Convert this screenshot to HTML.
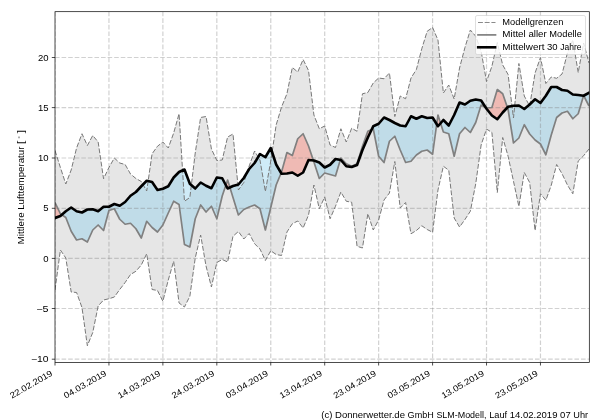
<!DOCTYPE html>
<html><head><meta charset="utf-8"><title>Mittlere Lufttemperatur</title>
<style>
html,body{margin:0;padding:0;background:#fff;}
body{width:600px;height:420px;overflow:hidden;font-family:"Liberation Sans",sans-serif;}
svg{display:block;will-change:transform;}
text{font-family:"Liberation Sans",sans-serif;fill:#000;}
</style></head><body>
<svg width="600" height="420" viewBox="0 0 600 420">
<rect width="600" height="420" fill="#fff"/>
<defs>
<clipPath id="ax"><rect x="55" y="11.7" width="534.3" height="350.8"/></clipPath>
<clipPath id="bc"><path d="M55.00 218.00 L60.39 216.00 L65.79 211.25 L71.18 207.50 L76.58 211.25 L81.97 212.50 L87.36 209.50 L92.76 209.25 L98.15 211.25 L103.55 206.75 L108.94 206.75 L114.33 204.00 L119.73 205.75 L125.12 202.00 L130.52 195.75 L135.91 192.00 L141.30 186.25 L146.70 180.75 L152.09 182.00 L157.49 190.00 L162.88 188.75 L168.27 186.25 L173.67 177.50 L179.06 172.00 L184.46 169.50 L189.85 183.75 L195.24 188.50 L200.64 182.50 L206.03 185.75 L211.43 188.25 L216.82 177.50 L222.21 178.25 L227.61 188.50 L233.00 186.00 L238.40 184.50 L243.79 178.00 L249.18 169.00 L254.58 163.00 L259.97 154.00 L265.37 157.25 L270.76 148.00 L276.15 164.50 L281.55 173.75 L286.94 173.50 L292.34 172.50 L297.73 175.75 L303.12 172.50 L308.52 160.00 L313.91 160.50 L319.31 162.50 L324.70 167.50 L330.09 164.75 L335.49 159.00 L340.88 160.00 L346.28 166.25 L351.67 167.00 L357.06 165.00 L362.46 150.00 L367.85 137.50 L373.25 126.25 L378.64 123.75 L384.03 117.50 L389.43 120.00 L394.82 123.00 L400.22 125.50 L405.61 126.25 L411.00 116.25 L416.40 118.75 L421.79 116.25 L427.19 118.00 L432.58 117.50 L437.97 126.25 L443.37 120.00 L448.76 125.50 L454.16 115.00 L459.55 102.50 L464.94 104.50 L470.34 100.75 L475.73 99.50 L481.13 100.50 L486.52 108.75 L491.91 115.50 L497.31 119.25 L502.70 112.50 L508.10 106.75 L513.49 105.75 L518.88 105.50 L524.28 109.00 L529.67 104.50 L535.07 99.25 L540.46 103.00 L545.85 95.75 L551.25 87.00 L556.64 87.00 L562.04 90.00 L567.43 90.75 L572.82 94.50 L578.22 95.00 L583.61 95.75 L589.01 92.75 L589.01 412.50 L55.00 412.50 Z"/></clipPath>
<clipPath id="ac"><path d="M55.00 218.00 L60.39 216.00 L65.79 211.25 L71.18 207.50 L76.58 211.25 L81.97 212.50 L87.36 209.50 L92.76 209.25 L98.15 211.25 L103.55 206.75 L108.94 206.75 L114.33 204.00 L119.73 205.75 L125.12 202.00 L130.52 195.75 L135.91 192.00 L141.30 186.25 L146.70 180.75 L152.09 182.00 L157.49 190.00 L162.88 188.75 L168.27 186.25 L173.67 177.50 L179.06 172.00 L184.46 169.50 L189.85 183.75 L195.24 188.50 L200.64 182.50 L206.03 185.75 L211.43 188.25 L216.82 177.50 L222.21 178.25 L227.61 188.50 L233.00 186.00 L238.40 184.50 L243.79 178.00 L249.18 169.00 L254.58 163.00 L259.97 154.00 L265.37 157.25 L270.76 148.00 L276.15 164.50 L281.55 173.75 L286.94 173.50 L292.34 172.50 L297.73 175.75 L303.12 172.50 L308.52 160.00 L313.91 160.50 L319.31 162.50 L324.70 167.50 L330.09 164.75 L335.49 159.00 L340.88 160.00 L346.28 166.25 L351.67 167.00 L357.06 165.00 L362.46 150.00 L367.85 137.50 L373.25 126.25 L378.64 123.75 L384.03 117.50 L389.43 120.00 L394.82 123.00 L400.22 125.50 L405.61 126.25 L411.00 116.25 L416.40 118.75 L421.79 116.25 L427.19 118.00 L432.58 117.50 L437.97 126.25 L443.37 120.00 L448.76 125.50 L454.16 115.00 L459.55 102.50 L464.94 104.50 L470.34 100.75 L475.73 99.50 L481.13 100.50 L486.52 108.75 L491.91 115.50 L497.31 119.25 L502.70 112.50 L508.10 106.75 L513.49 105.75 L518.88 105.50 L524.28 109.00 L529.67 104.50 L535.07 99.25 L540.46 103.00 L545.85 95.75 L551.25 87.00 L556.64 87.00 L562.04 90.00 L567.43 90.75 L572.82 94.50 L578.22 95.00 L583.61 95.75 L589.01 92.75 L589.01 -38.30 L55.00 -38.30 Z"/></clipPath>
</defs>
<g clip-path="url(#ax)">
<path d="M55.00 150.50 L60.39 167.50 L65.79 184.00 L71.18 170.00 L76.58 148.00 L81.97 133.75 L87.36 145.50 L92.76 135.50 L98.15 142.00 L103.55 178.75 L108.94 167.50 L114.33 158.00 L119.73 163.00 L125.12 164.50 L130.52 174.00 L135.91 178.50 L141.30 181.50 L146.70 191.00 L152.09 153.75 L157.49 146.25 L162.88 142.00 L168.27 148.00 L173.67 133.00 L179.06 113.75 L184.46 201.25 L189.85 197.50 L195.24 153.00 L200.64 117.50 L206.03 116.50 L211.43 149.00 L216.82 160.50 L222.21 160.00 L227.61 137.00 L233.00 134.00 L238.40 190.00 L243.79 182.50 L249.18 166.00 L254.58 151.00 L259.97 160.00 L265.37 191.50 L270.76 161.00 L276.15 125.00 L281.55 107.00 L286.94 93.75 L292.34 67.50 L297.73 72.00 L303.12 59.50 L308.52 70.50 L313.91 115.00 L319.31 128.75 L324.70 126.00 L330.09 145.00 L335.49 147.50 L340.88 128.75 L346.28 142.00 L351.67 128.25 L357.06 131.25 L362.46 93.75 L367.85 92.50 L373.25 83.00 L378.64 78.00 L384.03 78.75 L389.43 73.00 L394.82 116.50 L400.22 96.00 L405.61 98.75 L411.00 78.00 L416.40 69.50 L421.79 48.75 L427.19 31.25 L432.58 27.50 L437.97 40.00 L443.37 93.00 L448.76 85.00 L454.16 99.00 L459.55 68.00 L464.94 47.50 L470.34 30.00 L475.73 36.25 L481.13 51.25 L486.52 81.50 L491.91 66.25 L497.31 42.50 L502.70 65.00 L508.10 74.50 L513.49 118.00 L518.88 63.50 L524.28 96.00 L529.67 106.00 L535.07 73.00 L540.46 57.50 L545.85 83.50 L551.25 77.00 L556.64 78.30 L562.04 74.00 L567.43 53.00 L572.82 40.00 L578.22 72.50 L583.61 43.00 L589.01 63.00 L589.01 149.00 L583.61 155.75 L578.22 161.00 L572.82 193.75 L567.43 185.00 L562.04 173.75 L556.64 164.50 L551.25 185.25 L545.85 200.25 L540.46 193.75 L535.07 230.50 L529.67 182.50 L524.28 172.50 L518.88 206.50 L513.49 181.25 L508.10 156.25 L502.70 137.50 L497.31 192.50 L491.91 132.50 L486.52 129.00 L481.13 145.00 L475.73 183.75 L470.34 211.25 L464.94 219.50 L459.55 227.00 L454.16 218.00 L448.76 170.25 L443.37 166.25 L437.97 190.00 L432.58 232.25 L427.19 229.50 L421.79 225.75 L416.40 230.50 L411.00 233.75 L405.61 202.50 L400.22 208.00 L394.82 161.50 L389.43 193.00 L384.03 200.00 L378.64 220.00 L373.25 230.00 L367.85 213.75 L362.46 248.00 L357.06 246.25 L351.67 202.25 L346.28 201.25 L340.88 192.00 L335.49 206.25 L330.09 218.75 L324.70 197.00 L319.31 208.75 L313.91 185.00 L308.52 215.00 L303.12 228.00 L297.73 221.00 L292.34 223.75 L286.94 232.00 L281.55 255.50 L276.15 254.50 L270.76 250.75 L265.37 260.50 L259.97 249.00 L254.58 243.75 L249.18 233.50 L243.79 239.00 L238.40 231.50 L233.00 236.25 L227.61 262.00 L222.21 259.50 L216.82 262.50 L211.43 287.00 L206.03 266.00 L200.64 235.00 L195.24 258.00 L189.85 296.25 L184.46 307.00 L179.06 303.00 L173.67 261.25 L168.27 280.00 L162.88 301.25 L157.49 290.50 L152.09 289.50 L146.70 253.75 L141.30 265.00 L135.91 271.25 L130.52 274.50 L125.12 282.50 L119.73 289.50 L114.33 297.00 L108.94 298.75 L103.55 300.00 L98.15 306.00 L92.76 332.50 L87.36 345.75 L81.97 307.50 L76.58 292.50 L71.18 292.00 L65.79 258.00 L60.39 250.00 L55.00 290.00 Z" fill="#808080" fill-opacity="0.2"/>
<g clip-path="url(#bc)"><path d="M55.00 202.50 L60.39 213.75 L65.79 217.50 L71.18 231.25 L76.58 240.00 L81.97 238.75 L87.36 242.00 L92.76 230.00 L98.15 225.00 L103.55 230.50 L108.94 210.50 L114.33 208.75 L119.73 219.25 L125.12 224.25 L130.52 223.25 L135.91 228.75 L141.30 238.00 L146.70 221.25 L152.09 227.50 L157.49 232.00 L162.88 225.00 L168.27 213.00 L173.67 201.25 L179.06 204.50 L184.46 244.50 L189.85 247.00 L195.24 218.75 L200.64 205.00 L206.03 212.00 L211.43 206.25 L216.82 218.75 L222.21 196.00 L227.61 180.00 L233.00 197.50 L238.40 215.00 L243.79 209.50 L249.18 207.00 L254.58 205.00 L259.97 208.75 L265.37 230.00 L270.76 207.50 L276.15 185.00 L281.55 172.00 L286.94 152.50 L292.34 155.50 L297.73 138.75 L303.12 133.75 L308.52 146.00 L313.91 162.00 L319.31 178.50 L324.70 173.00 L330.09 174.50 L335.49 176.00 L340.88 158.00 L346.28 163.75 L351.67 166.25 L357.06 163.75 L362.46 146.25 L367.85 131.25 L373.25 128.75 L378.64 156.25 L384.03 162.50 L389.43 141.25 L394.82 136.25 L400.22 150.00 L405.61 162.50 L411.00 161.25 L416.40 155.00 L421.79 151.25 L427.19 150.00 L432.58 154.25 L437.97 115.00 L443.37 132.00 L448.76 133.75 L454.16 156.25 L459.55 133.75 L464.94 127.50 L470.34 132.50 L475.73 122.50 L481.13 105.00 L486.52 108.00 L491.91 107.50 L497.31 89.50 L502.70 93.75 L508.10 109.50 L513.49 143.00 L518.88 138.00 L524.28 124.75 L529.67 134.00 L535.07 140.00 L540.46 144.00 L545.85 154.75 L551.25 135.00 L556.64 117.50 L562.04 113.00 L567.43 111.25 L572.82 118.75 L578.22 113.75 L583.61 95.50 L589.01 106.00 L589.01 -38.30 L55.00 -38.30 Z" fill="#87ceeb" fill-opacity="0.4"/></g>
<g clip-path="url(#ac)"><path d="M55.00 202.50 L60.39 213.75 L65.79 217.50 L71.18 231.25 L76.58 240.00 L81.97 238.75 L87.36 242.00 L92.76 230.00 L98.15 225.00 L103.55 230.50 L108.94 210.50 L114.33 208.75 L119.73 219.25 L125.12 224.25 L130.52 223.25 L135.91 228.75 L141.30 238.00 L146.70 221.25 L152.09 227.50 L157.49 232.00 L162.88 225.00 L168.27 213.00 L173.67 201.25 L179.06 204.50 L184.46 244.50 L189.85 247.00 L195.24 218.75 L200.64 205.00 L206.03 212.00 L211.43 206.25 L216.82 218.75 L222.21 196.00 L227.61 180.00 L233.00 197.50 L238.40 215.00 L243.79 209.50 L249.18 207.00 L254.58 205.00 L259.97 208.75 L265.37 230.00 L270.76 207.50 L276.15 185.00 L281.55 172.00 L286.94 152.50 L292.34 155.50 L297.73 138.75 L303.12 133.75 L308.52 146.00 L313.91 162.00 L319.31 178.50 L324.70 173.00 L330.09 174.50 L335.49 176.00 L340.88 158.00 L346.28 163.75 L351.67 166.25 L357.06 163.75 L362.46 146.25 L367.85 131.25 L373.25 128.75 L378.64 156.25 L384.03 162.50 L389.43 141.25 L394.82 136.25 L400.22 150.00 L405.61 162.50 L411.00 161.25 L416.40 155.00 L421.79 151.25 L427.19 150.00 L432.58 154.25 L437.97 115.00 L443.37 132.00 L448.76 133.75 L454.16 156.25 L459.55 133.75 L464.94 127.50 L470.34 132.50 L475.73 122.50 L481.13 105.00 L486.52 108.00 L491.91 107.50 L497.31 89.50 L502.70 93.75 L508.10 109.50 L513.49 143.00 L518.88 138.00 L524.28 124.75 L529.67 134.00 L535.07 140.00 L540.46 144.00 L545.85 154.75 L551.25 135.00 L556.64 117.50 L562.04 113.00 L567.43 111.25 L572.82 118.75 L578.22 113.75 L583.61 95.50 L589.01 106.00 L589.01 412.50 L55.00 412.50 Z" fill="#fa8072" fill-opacity="0.43"/></g>
<line x1="55.00" y1="11.7" x2="55.00" y2="362.5" stroke="#808080" stroke-opacity="0.36" stroke-width="1.2" stroke-dasharray="4.6 1.975"/>
<line x1="108.94" y1="11.7" x2="108.94" y2="362.5" stroke="#808080" stroke-opacity="0.36" stroke-width="1.2" stroke-dasharray="4.6 1.975"/>
<line x1="162.88" y1="11.7" x2="162.88" y2="362.5" stroke="#808080" stroke-opacity="0.36" stroke-width="1.2" stroke-dasharray="4.6 1.975"/>
<line x1="216.82" y1="11.7" x2="216.82" y2="362.5" stroke="#808080" stroke-opacity="0.36" stroke-width="1.2" stroke-dasharray="4.6 1.975"/>
<line x1="270.76" y1="11.7" x2="270.76" y2="362.5" stroke="#808080" stroke-opacity="0.36" stroke-width="1.2" stroke-dasharray="4.6 1.975"/>
<line x1="324.70" y1="11.7" x2="324.70" y2="362.5" stroke="#808080" stroke-opacity="0.36" stroke-width="1.2" stroke-dasharray="4.6 1.975"/>
<line x1="378.64" y1="11.7" x2="378.64" y2="362.5" stroke="#808080" stroke-opacity="0.36" stroke-width="1.2" stroke-dasharray="4.6 1.975"/>
<line x1="432.58" y1="11.7" x2="432.58" y2="362.5" stroke="#808080" stroke-opacity="0.36" stroke-width="1.2" stroke-dasharray="4.6 1.975"/>
<line x1="486.52" y1="11.7" x2="486.52" y2="362.5" stroke="#808080" stroke-opacity="0.36" stroke-width="1.2" stroke-dasharray="4.6 1.975"/>
<line x1="540.46" y1="11.7" x2="540.46" y2="362.5" stroke="#808080" stroke-opacity="0.36" stroke-width="1.2" stroke-dasharray="4.6 1.975"/>
<line x1="55" y1="57.50" x2="589.3" y2="57.50" stroke="#808080" stroke-opacity="0.36" stroke-width="1.2" stroke-dasharray="4.6 1.975"/>
<line x1="55" y1="107.60" x2="589.3" y2="107.60" stroke="#808080" stroke-opacity="0.36" stroke-width="1.2" stroke-dasharray="4.6 1.975"/>
<line x1="55" y1="158.00" x2="589.3" y2="158.00" stroke="#808080" stroke-opacity="0.36" stroke-width="1.2" stroke-dasharray="4.6 1.975"/>
<line x1="55" y1="208.30" x2="589.3" y2="208.30" stroke="#808080" stroke-opacity="0.36" stroke-width="1.2" stroke-dasharray="4.6 1.975"/>
<line x1="55" y1="258.40" x2="589.3" y2="258.40" stroke="#808080" stroke-opacity="0.36" stroke-width="1.2" stroke-dasharray="4.6 1.975"/>
<line x1="55" y1="308.50" x2="589.3" y2="308.50" stroke="#808080" stroke-opacity="0.36" stroke-width="1.2" stroke-dasharray="4.6 1.975"/>
<line x1="55" y1="359.20" x2="589.3" y2="359.20" stroke="#808080" stroke-opacity="0.36" stroke-width="1.2" stroke-dasharray="4.6 1.975"/>
<path d="M55.00 150.50 L60.39 167.50 L65.79 184.00 L71.18 170.00 L76.58 148.00 L81.97 133.75 L87.36 145.50 L92.76 135.50 L98.15 142.00 L103.55 178.75 L108.94 167.50 L114.33 158.00 L119.73 163.00 L125.12 164.50 L130.52 174.00 L135.91 178.50 L141.30 181.50 L146.70 191.00 L152.09 153.75 L157.49 146.25 L162.88 142.00 L168.27 148.00 L173.67 133.00 L179.06 113.75 L184.46 201.25 L189.85 197.50 L195.24 153.00 L200.64 117.50 L206.03 116.50 L211.43 149.00 L216.82 160.50 L222.21 160.00 L227.61 137.00 L233.00 134.00 L238.40 190.00 L243.79 182.50 L249.18 166.00 L254.58 151.00 L259.97 160.00 L265.37 191.50 L270.76 161.00 L276.15 125.00 L281.55 107.00 L286.94 93.75 L292.34 67.50 L297.73 72.00 L303.12 59.50 L308.52 70.50 L313.91 115.00 L319.31 128.75 L324.70 126.00 L330.09 145.00 L335.49 147.50 L340.88 128.75 L346.28 142.00 L351.67 128.25 L357.06 131.25 L362.46 93.75 L367.85 92.50 L373.25 83.00 L378.64 78.00 L384.03 78.75 L389.43 73.00 L394.82 116.50 L400.22 96.00 L405.61 98.75 L411.00 78.00 L416.40 69.50 L421.79 48.75 L427.19 31.25 L432.58 27.50 L437.97 40.00 L443.37 93.00 L448.76 85.00 L454.16 99.00 L459.55 68.00 L464.94 47.50 L470.34 30.00 L475.73 36.25 L481.13 51.25 L486.52 81.50 L491.91 66.25 L497.31 42.50 L502.70 65.00 L508.10 74.50 L513.49 118.00 L518.88 63.50 L524.28 96.00 L529.67 106.00 L535.07 73.00 L540.46 57.50 L545.85 83.50 L551.25 77.00 L556.64 78.30 L562.04 74.00 L567.43 53.00 L572.82 40.00 L578.22 72.50 L583.61 43.00 L589.01 63.00" fill="none" stroke="#787878" stroke-width="1.0" stroke-dasharray="4.9 1.8"/>
<path d="M55.00 290.00 L60.39 250.00 L65.79 258.00 L71.18 292.00 L76.58 292.50 L81.97 307.50 L87.36 345.75 L92.76 332.50 L98.15 306.00 L103.55 300.00 L108.94 298.75 L114.33 297.00 L119.73 289.50 L125.12 282.50 L130.52 274.50 L135.91 271.25 L141.30 265.00 L146.70 253.75 L152.09 289.50 L157.49 290.50 L162.88 301.25 L168.27 280.00 L173.67 261.25 L179.06 303.00 L184.46 307.00 L189.85 296.25 L195.24 258.00 L200.64 235.00 L206.03 266.00 L211.43 287.00 L216.82 262.50 L222.21 259.50 L227.61 262.00 L233.00 236.25 L238.40 231.50 L243.79 239.00 L249.18 233.50 L254.58 243.75 L259.97 249.00 L265.37 260.50 L270.76 250.75 L276.15 254.50 L281.55 255.50 L286.94 232.00 L292.34 223.75 L297.73 221.00 L303.12 228.00 L308.52 215.00 L313.91 185.00 L319.31 208.75 L324.70 197.00 L330.09 218.75 L335.49 206.25 L340.88 192.00 L346.28 201.25 L351.67 202.25 L357.06 246.25 L362.46 248.00 L367.85 213.75 L373.25 230.00 L378.64 220.00 L384.03 200.00 L389.43 193.00 L394.82 161.50 L400.22 208.00 L405.61 202.50 L411.00 233.75 L416.40 230.50 L421.79 225.75 L427.19 229.50 L432.58 232.25 L437.97 190.00 L443.37 166.25 L448.76 170.25 L454.16 218.00 L459.55 227.00 L464.94 219.50 L470.34 211.25 L475.73 183.75 L481.13 145.00 L486.52 129.00 L491.91 132.50 L497.31 192.50 L502.70 137.50 L508.10 156.25 L513.49 181.25 L518.88 206.50 L524.28 172.50 L529.67 182.50 L535.07 230.50 L540.46 193.75 L545.85 200.25 L551.25 185.25 L556.64 164.50 L562.04 173.75 L567.43 185.00 L572.82 193.75 L578.22 161.00 L583.61 155.75 L589.01 149.00" fill="none" stroke="#787878" stroke-width="1.0" stroke-dasharray="4.9 1.8"/>
<path d="M55.00 202.50 L60.39 213.75 L65.79 217.50 L71.18 231.25 L76.58 240.00 L81.97 238.75 L87.36 242.00 L92.76 230.00 L98.15 225.00 L103.55 230.50 L108.94 210.50 L114.33 208.75 L119.73 219.25 L125.12 224.25 L130.52 223.25 L135.91 228.75 L141.30 238.00 L146.70 221.25 L152.09 227.50 L157.49 232.00 L162.88 225.00 L168.27 213.00 L173.67 201.25 L179.06 204.50 L184.46 244.50 L189.85 247.00 L195.24 218.75 L200.64 205.00 L206.03 212.00 L211.43 206.25 L216.82 218.75 L222.21 196.00 L227.61 180.00 L233.00 197.50 L238.40 215.00 L243.79 209.50 L249.18 207.00 L254.58 205.00 L259.97 208.75 L265.37 230.00 L270.76 207.50 L276.15 185.00 L281.55 172.00 L286.94 152.50 L292.34 155.50 L297.73 138.75 L303.12 133.75 L308.52 146.00 L313.91 162.00 L319.31 178.50 L324.70 173.00 L330.09 174.50 L335.49 176.00 L340.88 158.00 L346.28 163.75 L351.67 166.25 L357.06 163.75 L362.46 146.25 L367.85 131.25 L373.25 128.75 L378.64 156.25 L384.03 162.50 L389.43 141.25 L394.82 136.25 L400.22 150.00 L405.61 162.50 L411.00 161.25 L416.40 155.00 L421.79 151.25 L427.19 150.00 L432.58 154.25 L437.97 115.00 L443.37 132.00 L448.76 133.75 L454.16 156.25 L459.55 133.75 L464.94 127.50 L470.34 132.50 L475.73 122.50 L481.13 105.00 L486.52 108.00 L491.91 107.50 L497.31 89.50 L502.70 93.75 L508.10 109.50 L513.49 143.00 L518.88 138.00 L524.28 124.75 L529.67 134.00 L535.07 140.00 L540.46 144.00 L545.85 154.75 L551.25 135.00 L556.64 117.50 L562.04 113.00 L567.43 111.25 L572.82 118.75 L578.22 113.75 L583.61 95.50 L589.01 106.00" fill="none" stroke="#808080" stroke-width="1.7" stroke-linejoin="round"/>
<path d="M55.00 218.00 L60.39 216.00 L65.79 211.25 L71.18 207.50 L76.58 211.25 L81.97 212.50 L87.36 209.50 L92.76 209.25 L98.15 211.25 L103.55 206.75 L108.94 206.75 L114.33 204.00 L119.73 205.75 L125.12 202.00 L130.52 195.75 L135.91 192.00 L141.30 186.25 L146.70 180.75 L152.09 182.00 L157.49 190.00 L162.88 188.75 L168.27 186.25 L173.67 177.50 L179.06 172.00 L184.46 169.50 L189.85 183.75 L195.24 188.50 L200.64 182.50 L206.03 185.75 L211.43 188.25 L216.82 177.50 L222.21 178.25 L227.61 188.50 L233.00 186.00 L238.40 184.50 L243.79 178.00 L249.18 169.00 L254.58 163.00 L259.97 154.00 L265.37 157.25 L270.76 148.00 L276.15 164.50 L281.55 173.75 L286.94 173.50 L292.34 172.50 L297.73 175.75 L303.12 172.50 L308.52 160.00 L313.91 160.50 L319.31 162.50 L324.70 167.50 L330.09 164.75 L335.49 159.00 L340.88 160.00 L346.28 166.25 L351.67 167.00 L357.06 165.00 L362.46 150.00 L367.85 137.50 L373.25 126.25 L378.64 123.75 L384.03 117.50 L389.43 120.00 L394.82 123.00 L400.22 125.50 L405.61 126.25 L411.00 116.25 L416.40 118.75 L421.79 116.25 L427.19 118.00 L432.58 117.50 L437.97 126.25 L443.37 120.00 L448.76 125.50 L454.16 115.00 L459.55 102.50 L464.94 104.50 L470.34 100.75 L475.73 99.50 L481.13 100.50 L486.52 108.75 L491.91 115.50 L497.31 119.25 L502.70 112.50 L508.10 106.75 L513.49 105.75 L518.88 105.50 L524.28 109.00 L529.67 104.50 L535.07 99.25 L540.46 103.00 L545.85 95.75 L551.25 87.00 L556.64 87.00 L562.04 90.00 L567.43 90.75 L572.82 94.50 L578.22 95.00 L583.61 95.75 L589.01 92.75" fill="none" stroke="#000" stroke-width="2.6" stroke-linejoin="round" stroke-linecap="square"/>
</g>
<rect x="55" y="11.7" width="534.3" height="350.8" fill="none" stroke="#000" stroke-width="0.7"/>
<line x1="55.00" y1="362.5" x2="55.00" y2="365.5" stroke="#000" stroke-width="0.7"/>
<line x1="108.94" y1="362.5" x2="108.94" y2="365.5" stroke="#000" stroke-width="0.7"/>
<line x1="162.88" y1="362.5" x2="162.88" y2="365.5" stroke="#000" stroke-width="0.7"/>
<line x1="216.82" y1="362.5" x2="216.82" y2="365.5" stroke="#000" stroke-width="0.7"/>
<line x1="270.76" y1="362.5" x2="270.76" y2="365.5" stroke="#000" stroke-width="0.7"/>
<line x1="324.70" y1="362.5" x2="324.70" y2="365.5" stroke="#000" stroke-width="0.7"/>
<line x1="378.64" y1="362.5" x2="378.64" y2="365.5" stroke="#000" stroke-width="0.7"/>
<line x1="432.58" y1="362.5" x2="432.58" y2="365.5" stroke="#000" stroke-width="0.7"/>
<line x1="486.52" y1="362.5" x2="486.52" y2="365.5" stroke="#000" stroke-width="0.7"/>
<line x1="540.46" y1="362.5" x2="540.46" y2="365.5" stroke="#000" stroke-width="0.7"/>
<line x1="51.8" y1="57.50" x2="55" y2="57.50" stroke="#000" stroke-width="0.7"/>
<line x1="51.8" y1="107.60" x2="55" y2="107.60" stroke="#000" stroke-width="0.7"/>
<line x1="51.8" y1="158.00" x2="55" y2="158.00" stroke="#000" stroke-width="0.7"/>
<line x1="51.8" y1="208.30" x2="55" y2="208.30" stroke="#000" stroke-width="0.7"/>
<line x1="51.8" y1="258.40" x2="55" y2="258.40" stroke="#000" stroke-width="0.7"/>
<line x1="51.8" y1="308.50" x2="55" y2="308.50" stroke="#000" stroke-width="0.7"/>
<line x1="51.8" y1="359.20" x2="55" y2="359.20" stroke="#000" stroke-width="0.7"/>
<text x="38.00" y="60.60" font-size="8.6" textLength="10.60" lengthAdjust="spacingAndGlyphs">20</text>
<text x="38.00" y="110.70" font-size="8.6" textLength="10.60" lengthAdjust="spacingAndGlyphs">15</text>
<text x="38.00" y="161.10" font-size="8.6" textLength="10.60" lengthAdjust="spacingAndGlyphs">10</text>
<text x="43.30" y="211.40" font-size="8.6" textLength="5.30" lengthAdjust="spacingAndGlyphs">5</text>
<text x="43.30" y="261.50" font-size="8.6" textLength="5.30" lengthAdjust="spacingAndGlyphs">0</text>
<text x="36.32" y="311.60" font-size="8.6" textLength="12.28" lengthAdjust="spacingAndGlyphs">−5</text>
<text x="31.01" y="362.30" font-size="8.6" textLength="17.59" lengthAdjust="spacingAndGlyphs">−10</text>
<g transform="translate(53.20 375.0) rotate(-30)"><text x="-47.71" y="0.00" font-size="8.6" textLength="47.71" lengthAdjust="spacingAndGlyphs">22.02.2019</text></g>
<g transform="translate(107.14 375.0) rotate(-30)"><text x="-47.71" y="0.00" font-size="8.6" textLength="47.71" lengthAdjust="spacingAndGlyphs">04.03.2019</text></g>
<g transform="translate(161.08 375.0) rotate(-30)"><text x="-47.71" y="0.00" font-size="8.6" textLength="47.71" lengthAdjust="spacingAndGlyphs">14.03.2019</text></g>
<g transform="translate(215.02 375.0) rotate(-30)"><text x="-47.71" y="0.00" font-size="8.6" textLength="47.71" lengthAdjust="spacingAndGlyphs">24.03.2019</text></g>
<g transform="translate(268.96 375.0) rotate(-30)"><text x="-47.71" y="0.00" font-size="8.6" textLength="47.71" lengthAdjust="spacingAndGlyphs">03.04.2019</text></g>
<g transform="translate(322.90 375.0) rotate(-30)"><text x="-47.71" y="0.00" font-size="8.6" textLength="47.71" lengthAdjust="spacingAndGlyphs">13.04.2019</text></g>
<g transform="translate(376.84 375.0) rotate(-30)"><text x="-47.71" y="0.00" font-size="8.6" textLength="47.71" lengthAdjust="spacingAndGlyphs">23.04.2019</text></g>
<g transform="translate(430.78 375.0) rotate(-30)"><text x="-47.71" y="0.00" font-size="8.6" textLength="47.71" lengthAdjust="spacingAndGlyphs">03.05.2019</text></g>
<g transform="translate(484.72 375.0) rotate(-30)"><text x="-47.71" y="0.00" font-size="8.6" textLength="47.71" lengthAdjust="spacingAndGlyphs">13.05.2019</text></g>
<g transform="translate(538.66 375.0) rotate(-30)"><text x="-47.71" y="0.00" font-size="8.6" textLength="47.71" lengthAdjust="spacingAndGlyphs">23.05.2019</text></g>
<g transform="translate(23.8 244.3) rotate(-90)"><text x="0.00" y="0.00" font-size="8.6" textLength="31.85" lengthAdjust="spacingAndGlyphs">Mittlere</text><text x="34.50" y="0.00" font-size="8.6" textLength="63.27" lengthAdjust="spacingAndGlyphs">Lufttemperatur</text><text x="100.42" y="0.00" font-size="8.6" textLength="3.25" lengthAdjust="spacingAndGlyphs">[</text><text x="105.8" y="-2.2" font-size="6" fill="#444">°</text><text x="111.17" y="0.00" font-size="8.6" textLength="3.25" lengthAdjust="spacingAndGlyphs">]</text></g>
<text x="321.27" y="418.20" font-size="8.6" textLength="11.08" lengthAdjust="spacingAndGlyphs">(c)</text><text x="335.01" y="418.20" font-size="8.6" textLength="69.96" lengthAdjust="spacingAndGlyphs">Donnerwetter.de</text><text x="407.62" y="418.20" font-size="8.6" textLength="26.13" lengthAdjust="spacingAndGlyphs">GmbH</text><text x="436.40" y="418.20" font-size="8.6" textLength="50.11" lengthAdjust="spacingAndGlyphs">SLM-Modell,</text><text x="489.16" y="418.20" font-size="8.6" textLength="17.96" lengthAdjust="spacingAndGlyphs">Lauf</text><text x="509.78" y="418.20" font-size="8.6" textLength="47.71" lengthAdjust="spacingAndGlyphs">14.02.2019</text><text x="560.14" y="418.20" font-size="8.6" textLength="10.60" lengthAdjust="spacingAndGlyphs">07</text><text x="573.39" y="418.20" font-size="8.6" textLength="14.81" lengthAdjust="spacingAndGlyphs">Uhr</text>
<rect x="475.5" y="15.5" width="110" height="39" rx="1.7" fill="#fff" fill-opacity="0.8" stroke="#ccc" stroke-opacity="0.8" stroke-width="0.8"/>
<line x1="478" y1="22.5" x2="495.5" y2="22.5" stroke="#8a8a8a" stroke-width="1.0" stroke-dasharray="4.9 1.8"/>
<line x1="478" y1="34.9" x2="495.5" y2="34.9" stroke="#808080" stroke-width="1.7" stroke-linecap="square"/>
<line x1="478.2" y1="47.3" x2="495.1" y2="47.3" stroke="#000" stroke-width="2.6" stroke-linecap="square"/>
<text x="502.30" y="24.90" font-size="8.6" textLength="61.06" lengthAdjust="spacingAndGlyphs">Modellgrenzen</text>
<text x="502.30" y="37.40" font-size="8.6" textLength="23.48" lengthAdjust="spacingAndGlyphs">Mittel</text><text x="528.43" y="37.40" font-size="8.6" textLength="18.29" lengthAdjust="spacingAndGlyphs">aller</text><text x="549.37" y="37.40" font-size="8.6" textLength="32.46" lengthAdjust="spacingAndGlyphs">Modelle</text>
<text x="502.30" y="49.90" font-size="8.6" textLength="42.12" lengthAdjust="spacingAndGlyphs">Mittelwert</text><text x="547.07" y="49.90" font-size="8.6" textLength="10.60" lengthAdjust="spacingAndGlyphs">30</text><text x="560.32" y="49.90" font-size="8.6" textLength="21.22" lengthAdjust="spacingAndGlyphs">Jahre</text>
</svg></body></html>
